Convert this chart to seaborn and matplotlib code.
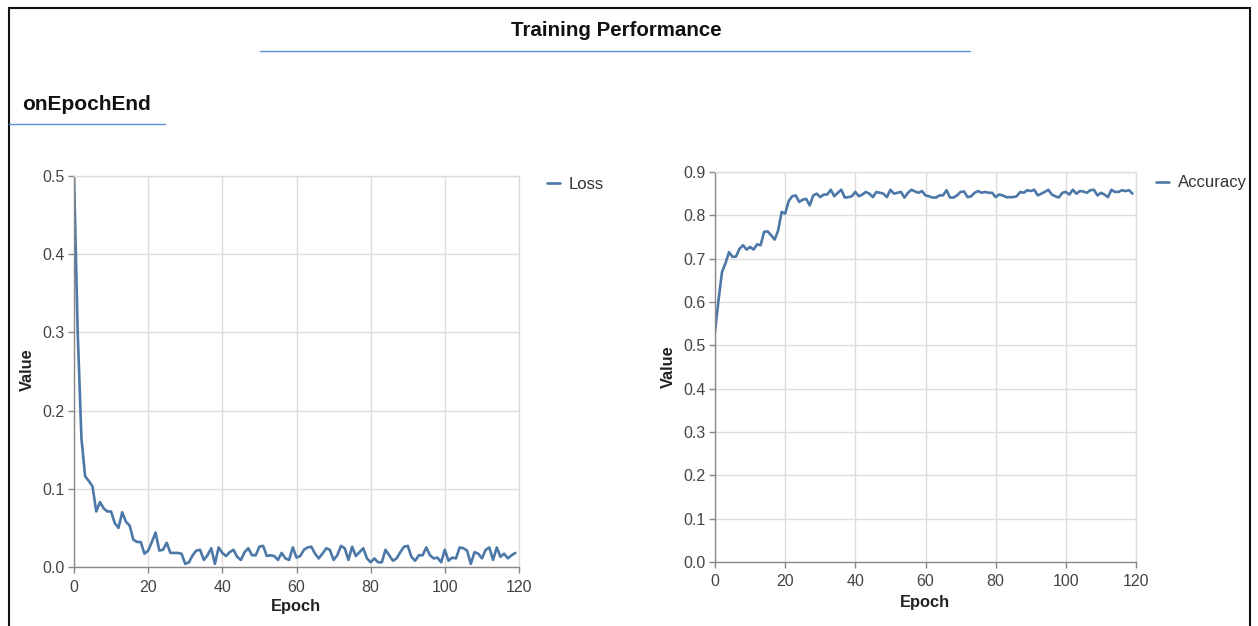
import numpy as np
import pandas as pd
import matplotlib
matplotlib.use("Agg")
import matplotlib.pyplot as plt
from matplotlib.lines import Line2D
from matplotlib.patches import Rectangle
import seaborn as sns

# 値は画像から読み取った推定値
loss = [
    0.500, 0.300, 0.165, 0.116, 0.110, 0.103, 0.071, 0.083, 0.075, 0.071,
    0.071, 0.056, 0.050, 0.070, 0.058, 0.053, 0.035, 0.032, 0.032, 0.017,
    0.021, 0.032, 0.044, 0.021, 0.022, 0.031, 0.018, 0.018, 0.018, 0.017,
    0.004, 0.006, 0.015, 0.021, 0.022, 0.009, 0.015, 0.024, 0.004, 0.025,
    0.018, 0.014, 0.019, 0.022, 0.013, 0.009, 0.019, 0.024, 0.015, 0.015,
    0.026, 0.027, 0.014, 0.015, 0.014, 0.009, 0.018, 0.011, 0.009, 0.025,
    0.012, 0.014, 0.022, 0.025, 0.026, 0.017, 0.011, 0.017, 0.024, 0.022,
    0.009, 0.015, 0.027, 0.024, 0.009, 0.026, 0.014, 0.019, 0.024, 0.011,
    0.006, 0.011, 0.006, 0.006, 0.022, 0.015, 0.008, 0.011, 0.019, 0.026,
    0.027, 0.013, 0.008, 0.015, 0.015, 0.025, 0.015, 0.011, 0.012, 0.006,
    0.022, 0.008, 0.012, 0.011, 0.025, 0.024, 0.021, 0.004, 0.019, 0.017,
    0.011, 0.022, 0.025, 0.009, 0.025, 0.013, 0.017, 0.011, 0.015, 0.018,
]
accuracy = [
    0.531, 0.604, 0.669, 0.690, 0.715, 0.704, 0.705, 0.723, 0.731, 0.721,
    0.727, 0.721, 0.733, 0.731, 0.762, 0.763, 0.754, 0.744, 0.765, 0.808,
    0.804, 0.833, 0.844, 0.846, 0.831, 0.836, 0.838, 0.823, 0.846, 0.850,
    0.842, 0.848, 0.848, 0.859, 0.844, 0.852, 0.859, 0.841, 0.842, 0.844,
    0.854, 0.844, 0.848, 0.854, 0.850, 0.842, 0.854, 0.852, 0.850, 0.842,
    0.859, 0.850, 0.852, 0.854, 0.841, 0.852, 0.859, 0.855, 0.852, 0.856,
    0.846, 0.844, 0.841, 0.841, 0.846, 0.846, 0.858, 0.841, 0.841, 0.846,
    0.854, 0.855, 0.842, 0.844, 0.852, 0.856, 0.852, 0.854, 0.852, 0.852,
    0.842, 0.848, 0.846, 0.842, 0.842, 0.842, 0.844, 0.854, 0.852, 0.858,
    0.856, 0.859, 0.846, 0.850, 0.854, 0.859, 0.848, 0.844, 0.841, 0.852,
    0.854, 0.848, 0.859, 0.850, 0.856, 0.855, 0.852, 0.858, 0.859, 0.846,
    0.852, 0.848, 0.842, 0.859, 0.854, 0.854, 0.858, 0.856, 0.858, 0.850,
]
epochs = list(range(len(loss)))
x_ticks = [0, 20, 40, 60, 80, 100, 120]
loss_ticks = [0.0, 0.1, 0.2, 0.3, 0.4, 0.5]
acc_ticks = [0.0, 0.1, 0.2, 0.3, 0.4, 0.5, 0.6, 0.7, 0.8, 0.9]

sns.set_theme(style="whitegrid")
plt.rcParams['font.family'] = ['Liberation Sans', 'DejaVu Sans']

W, H = 1258, 626
fig = plt.figure(figsize=(W / 100, H / 100), dpi=100)
fig.patch.set_facecolor('white')

line_color = '#4c78a8'
grid_color = '#dddddd'
axis_color = '#888888'


def px_box(x0, y0, x1, y1):
    # ピクセル座標 -> figure座標
    return [x0 / W, 1 - y1 / H, (x1 - x0) / W, (y1 - y0) / H]


def draw_panel(box, values, name, yticks, ymax, legend_px, xlab_px, ylab_px):
    ax = fig.add_axes(px_box(*box))
    bw, bh = box[2] - box[0], box[3] - box[1]
    df = pd.DataFrame({'Epoch': epochs, 'Value': values})
    sns.lineplot(data=df, x='Epoch', y='Value', ax=ax, color=line_color,
                 linewidth=1.9, label=name)
    ax.set_xlim(0, 120)
    ax.set_ylim(0, ymax)
    ax.set_xticks(x_ticks)
    ax.set_yticks(yticks)
    ax.set_yticklabels([f"{t:.1f}" for t in yticks])
    ax.grid(True, color=grid_color, linewidth=1)
    for s in ['top', 'right']:
        ax.spines[s].set_color(grid_color)
        ax.spines[s].set_linewidth(1)
    for s in ['left', 'bottom']:
        ax.spines[s].set_color(axis_color)
        ax.spines[s].set_linewidth(1)
    ax.tick_params(axis='both', which='major', length=4.5, width=1,
                   color=axis_color, labelsize=11.5, labelcolor='#444444',
                   pad=2, bottom=True, left=True)
    ax.tick_params(axis='x', pad=4.5)
    ax.set_xlabel('Epoch', fontsize=11.8, fontweight='bold', color='#222222')
    ax.set_ylabel('Value', fontsize=11.8, fontweight='bold', color='#222222')
    ax.xaxis.set_label_coords((xlab_px[0] - box[0]) / bw,
                              -(xlab_px[1] - box[3]) / bh)
    ax.xaxis.label.set_va('center')
    ax.yaxis.set_label_coords((ylab_px[0] - box[0]) / bw,
                              1 - (ylab_px[1] - box[1]) / bh)
    ax.yaxis.label.set_va('center')
    lx, ly = legend_px
    bx = (lx - box[0]) / bw
    by = 1 - (ly - box[1]) / bh
    ax.legend(loc='center left', bbox_to_anchor=(bx, by), frameon=False,
              fontsize=12, handlelength=0.8, handletextpad=0.5,
              borderaxespad=0, borderpad=0, labelcolor='#333333')
    return ax


draw_panel((74, 176, 519, 567), loss, 'Loss', loss_ticks, 0.5,
           (547, 184), (296, 607), (27, 370))
draw_panel((715, 172, 1136, 562), accuracy, 'Accuracy', acc_ticks, 0.9,
           (1156, 183), (925, 603), (668, 367))

# タイトルと見出し
fig.text(616 / W, 1 - 30 / H, 'Training Performance', ha='center', va='center',
         fontsize=14.8, fontweight='bold', color='#111111')
fig.text(22 / W, 1 - 104 / H, 'onEpochEnd', ha='left', va='center',
         fontsize=15, fontweight='bold', color='#111111')

underline = '#5a8fd8'
fig.add_artist(Line2D([260 / W, 970 / W], [1 - 51 / H] * 2, color=underline, lw=1))
fig.add_artist(Line2D([9 / W, 165 / W], [1 - 124 / H] * 2, color=underline, lw=1))

# 外枠
fig.add_artist(Rectangle((9 / W, -0.05), (1250 - 9) / W, 1.05 - 8 / H,
                         transform=fig.transFigure, fill=False,
                         edgecolor='#111111', linewidth=1.5))

fig.savefig('out.png', dpi=100, facecolor='white')
